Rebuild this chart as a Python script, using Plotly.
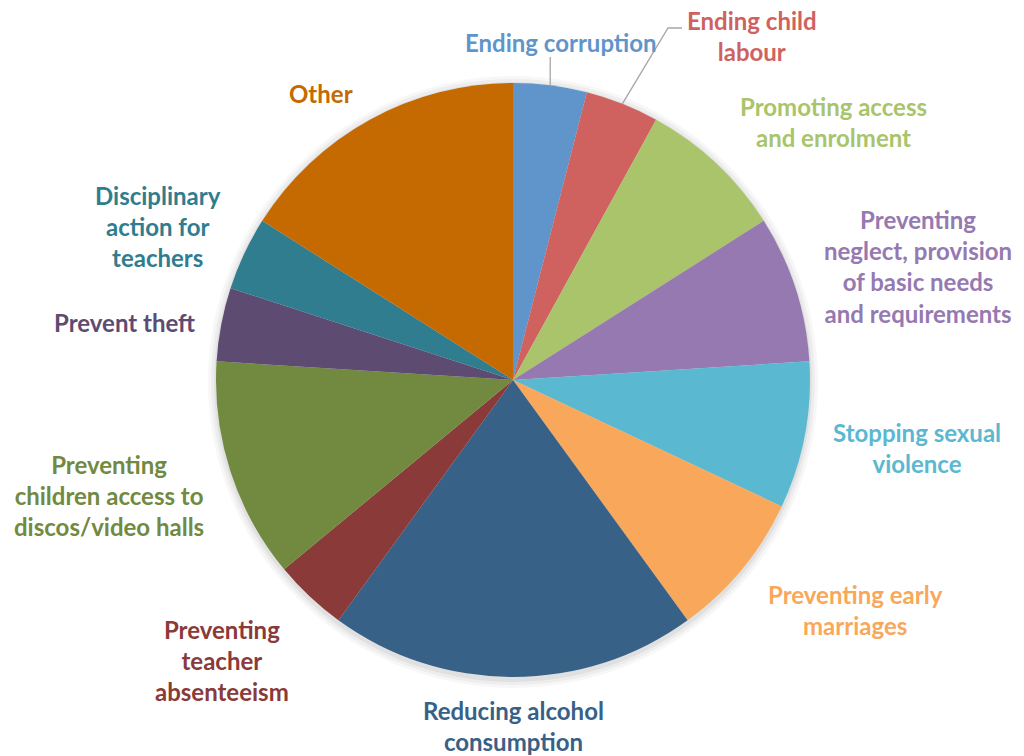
import math
import plotly.graph_objects as go

# Responses per theme, clockwise from 12 o'clock
themes = [
    "Ending corruption",
    "Ending child<br>labour",
    "Promoting access<br>and enrolment",
    "Preventing<br>neglect, provision<br>of basic needs<br>and requirements",
    "Stopping sexual<br>violence",
    "Preventing early<br>marriages",
    "Reducing alcohol<br>consumption",
    "Preventing<br>teacher<br>absenteeism",
    "Preventing<br>children access to<br>discos/video halls",
    "Prevent theft",
    "Disciplinary<br>action for<br>teachers",
    "Other",
]
counts = [1, 1, 2, 2, 2, 2, 5, 1, 3, 1, 1, 4]

colors = [
    "#5F95CB", "#CF625F", "#A9C46A", "#9579B0", "#5AB8D1", "#F9A75A",
    "#376186", "#8A3A38", "#718A40", "#5E4B72", "#2F7D8F", "#C46A00",
]

# Page geometry (pixels) of the pie
W, H = 1024, 756
CX, CY, R = 513, 380, 297

# Label centres in page pixels
label_xy = [
    (561, 42), (752, 36), (833, 122), (918, 266), (917, 448), (855, 610),
    (513, 726), (222, 660), (109, 495), (124, 322), (158, 227), (321, 93),
]


def px(x):
    return x / W


def py(y):
    return 1 - y / H


fig = go.Figure(
    go.Pie(
        labels=[t.replace("<br>", " ") for t in themes],
        values=counts,
        sort=False,
        direction="clockwise",
        rotation=0,
        marker=dict(colors=colors, line=dict(width=0)),
        textinfo="none",
        hoverinfo="label+value",
        showlegend=False,
        domain=dict(x=[px(CX - R), px(CX + R)], y=[py(CY + R), py(CY - R)]),
    )
)

# Soft shadow under the pie
shapes = []
for grow, alpha in [(9, 0.03), (6, 0.04), (3, 0.05)]:
    shapes.append(dict(
        type="circle", xref="paper", yref="paper", layer="below",
        x0=px(CX - R - grow + 1), x1=px(CX + R + grow - 1),
        y0=py(CY + R + grow + 2), y1=py(CY - R - grow + 2),
        fillcolor=f"rgba(0,0,0,{alpha})", line=dict(width=0),
    ))

# Leader lines from slice mid-points to the two top labels
total = sum(counts)
cum = 0
mids = []
for c in counts:
    mids.append((cum + c / 2) / total * 2 * math.pi)
    cum += c


def edge(i):
    a = mids[i]
    return CX + R * math.sin(a), CY - R * math.cos(a)


ex, ey = edge(0)
shapes.append(dict(
    type="path", xref="paper", yref="paper",
    path=f"M {px(ex)},{py(ey)} L {px(ex)},{py(57)}",
    line=dict(color="#A6A6A6", width=1.3),
))
ex, ey = edge(1)
shapes.append(dict(
    type="path", xref="paper", yref="paper",
    path=f"M {px(ex)},{py(ey)} L {px(668)},{py(28)} L {px(682)},{py(28)}",
    line=dict(color="#A6A6A6", width=1.3),
))

annotations = []
for t, (lx, ly), col in zip(themes, label_xy, colors):
    annotations.append(dict(
        text=t, x=px(lx), y=py(ly), xref="paper", yref="paper",
        xanchor="center", yanchor="middle", align="center", showarrow=False,
        font=dict(family="Lato", size=24, color=col, weight="bold"),
    ))

fig.update_layout(
    width=W, height=H,
    margin=dict(l=0, r=0, t=0, b=0),
    paper_bgcolor="white", plot_bgcolor="white",
    shapes=shapes, annotations=annotations,
)

fig.write_html("out.html")
